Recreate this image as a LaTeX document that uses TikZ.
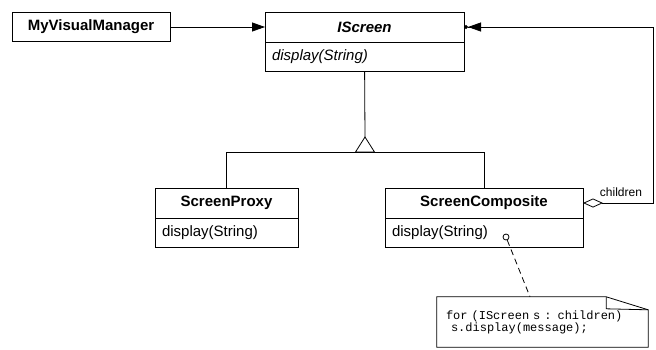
\documentclass[tikz,border=0pt]{standalone}
\usepackage{fontspec}
\setmainfont{Liberation Sans}
\newfontfamily\notefont[WordSpace={1,0,0}]{Liberation Mono}
\usetikzlibrary{arrows.meta,positioning}

\begin{document}
\begin{tikzpicture}[
  x=1pt, y=-1pt,
  classbox/.style={rectangle, draw, line width=0.8pt, outer sep=0pt, minimum height=30pt, font=\fontsize{15}{18}\selectfont\bfseries},
  opbox/.style={rectangle, draw, line width=0.8pt, outer sep=0pt, minimum height=29pt, inner xsep=7pt, align=left, font=\fontsize{15}{18}\selectfont},
  assoc/.style={-{Triangle[length=13pt,width=9pt]}, line width=0.8pt},
  agg/.style={{Diamond[open,length=20pt,width=9pt]}-{Triangle[length=13pt,width=9pt]Circle[length=4pt]}, line width=0.8pt},
  gen/.style={line width=0.8pt}
]
  \useasboundingbox (0,0) rectangle (656,349);

  % classes
  \node[classbox, minimum width=158pt, minimum height=29pt] (manager) at (91,27) {MyVisualManager};
  \node[classbox, minimum width=199pt] (iscreen) at (364.5,27) {\textit{IScreen}};
  \node[opbox, text width=185pt, below=0pt of iscreen] (iscreenop) {\textit{display(String)}};
  \node[classbox, minimum width=143pt] (proxy) at (226.5,203) {ScreenProxy};
  \node[opbox, text width=129pt, below=0pt of proxy] (proxyop) {display(String)};
  \node[classbox, minimum width=198pt] (composite) at (484,203) {ScreenComposite};
  \node[opbox, text width=184pt, below=0pt of composite] (compositeop) {display(String)};

  % note
  \node[circle, draw, line width=0.8pt, minimum size=6pt, inner sep=0pt] (pin) at (506,237) {};
  \node[minimum width=211pt, minimum height=50pt, inner xsep=9pt, text width=193pt, align=left, font=\notefont\fontsize{12}{12}\selectfont] (note) at (542.5,322) {for (IScreen s : children)\\\hspace*{5pt}s.display(message);};
  \draw[line width=0.8pt] (note.north west) -- ([xshift=-42pt]note.north east) -- ([yshift=-13pt]note.north east) -- (note.south east) -- (note.south west) -- cycle;
  \draw[line width=0.8pt] ([xshift=-42pt]note.north east) -- ([xshift=-42pt,yshift=-12pt]note.north east) -- ([yshift=-13pt]note.north east);
  \draw[dashed, dash pattern=on 6pt off 4pt, line width=0.8pt] (pin) -- ([xshift=-12.5pt]note.north);

  % connectors
  \draw[assoc] (manager) -- (iscreen);

  \coordinate (apex) at (365,137);
  \coordinate (base) at (365,152);
  \draw[gen] (iscreenop) -- (apex);
  \draw[gen] (apex) -- ([xshift=-9.5pt]base) -- ([xshift=9.5pt]base) -- cycle;
  \draw[gen] (proxy.north) -- (proxy.north |- base) -- (composite.north |- base) -- (composite.north);

  \coordinate (corner) at (653,27);
  \draw[agg] (composite.east) -| (corner) -- (iscreen.east);
  \node[font=\fontsize{12}{14}\selectfont] (childlabel) at (621,192) {children};
\end{tikzpicture}
\end{document}
